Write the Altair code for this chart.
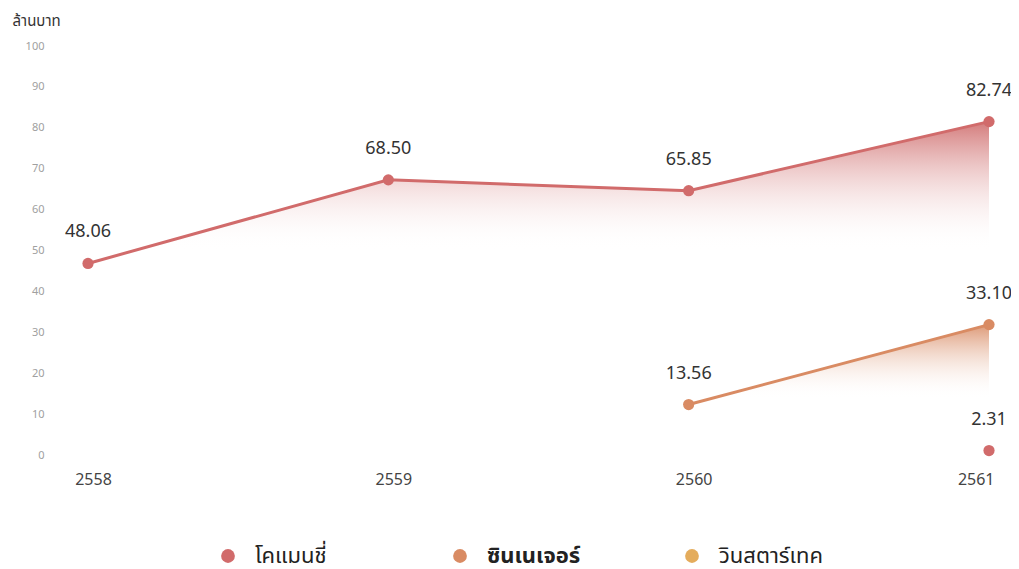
import altair as alt
import pandas as pd

years = [2558, 2559, 2560, 2561]
series_names = ["โคแมนชี่", "ซินเนเจอร์", "วินสตาร์เทค"]
comanche = [48.06, 68.50, 65.85, 82.74]
synergy = [None, None, 13.56, 33.10]
winstar = [None, None, None, 2.31]
colors = ["#d16b6b", "#d98b63", "#e4ac5c"]
y_ticks = [0, 10, 20, 30, 40, 50, 60, 70, 80, 90, 100]

rows = []
for name, vals in zip(series_names, [comanche, synergy, winstar]):
    for yr, v in zip(years, vals):
        if v is not None:
            rows.append({"series": name, "year": yr, "value": v})
df = pd.DataFrame(rows)

FONT = "Noto Sans, Noto Sans Thai, Tahoma, sans-serif"

x_enc = alt.X(
    "year:Q",
    scale=alt.Scale(domain=[2557.8735, 2561.0], nice=False, zero=False),
    axis=alt.Axis(
        values=years, format="d", title=None, grid=False, ticks=False, domain=False,
        labelFontSize=16, labelColor="#444", labelPadding=11, labelOffset=5,
        labelFont=FONT,
    ),
)
y_enc = alt.Y(
    "value:Q",
    scale=alt.Scale(domain=[0, 100], nice=False),
    axis=alt.Axis(
        values=y_ticks, grid=False, ticks=False, domain=False,
        labelFontSize=11, labelColor="#a0a0a0", labelPadding=6, labelOffset=-5,
        labelFont=FONT,
        title="ล้านบาท", titleAngle=0, titleAlign="left", titleBaseline="middle",
        titleX=-38, titleY=-31, titleFontSize=15, titleFontWeight="normal",
        titleColor="#333", titleFont=FONT,
    ),
)

base = alt.Chart(df)


def grad(color_top, stop):
    return alt.Gradient(
        gradient="linear",
        stops=[
            alt.GradientStop(color=color_top, offset=0),
            alt.GradientStop(color="rgba(255,255,255,0)", offset=stop),
        ],
        x1=0, x2=0, y1=0, y2=1,
    )


area_red = base.transform_filter(alt.datum.series == series_names[0]).mark_area(
    color=grad("rgba(204,100,100,0.85)", 0.38)
).encode(x=x_enc, y=y_enc)

area_orange = base.transform_filter(alt.datum.series == series_names[1]).mark_area(
    color=grad("rgba(215,135,95,0.85)", 0.55)
).encode(x=x_enc, y=y_enc)

lines = base.mark_line(strokeWidth=3).encode(
    x=x_enc, y=y_enc,
    color=alt.Color("series:N", scale=alt.Scale(domain=series_names, range=colors), legend=None),
    detail="series:N",
)

points = base.mark_circle(size=125, opacity=1).encode(
    x=x_enc, y=y_enc,
    color=alt.condition(
        alt.datum.series == series_names[2],
        alt.value(colors[0]),
        alt.Color(
            "series:N",
            scale=alt.Scale(domain=series_names, range=colors),
            legend=alt.Legend(
                title=None, orient="none", legendX=167, legendY=494,
                direction="horizontal", columns=3, gridAlign="all",
                columnPadding=90, symbolSize=190, symbolType="circle",
                symbolStrokeWidth=0, labelFontSize=22, labelColor="#222",
                labelOffset=16, labelFont=FONT, padding=0, labelLimit=300,
                labelFontWeight=alt.ExprRef(expr="datum.label == 'ซินเนเจอร์' ? 'bold' : 'normal'"),
            ),
        ),
    ),
)

labels = base.mark_text(dy=-31, fontSize=18, color="#333", font=FONT).encode(
    x=x_enc, y=y_enc, text=alt.Text("value:Q", format=".2f")
)

chart = (
    alt.layer(area_red, area_orange, lines, points, labels)
    .resolve_scale(color="independent")
    .properties(
        width=939, height=409,
        autosize=alt.AutoSizeParams(type="none"),
        padding={"left": 42, "top": 43, "right": 22, "bottom": 106},
    )
    .configure_view(stroke=None)
)

chart.save("out.html", embed_options={"renderer": "svg", "actions": False})
